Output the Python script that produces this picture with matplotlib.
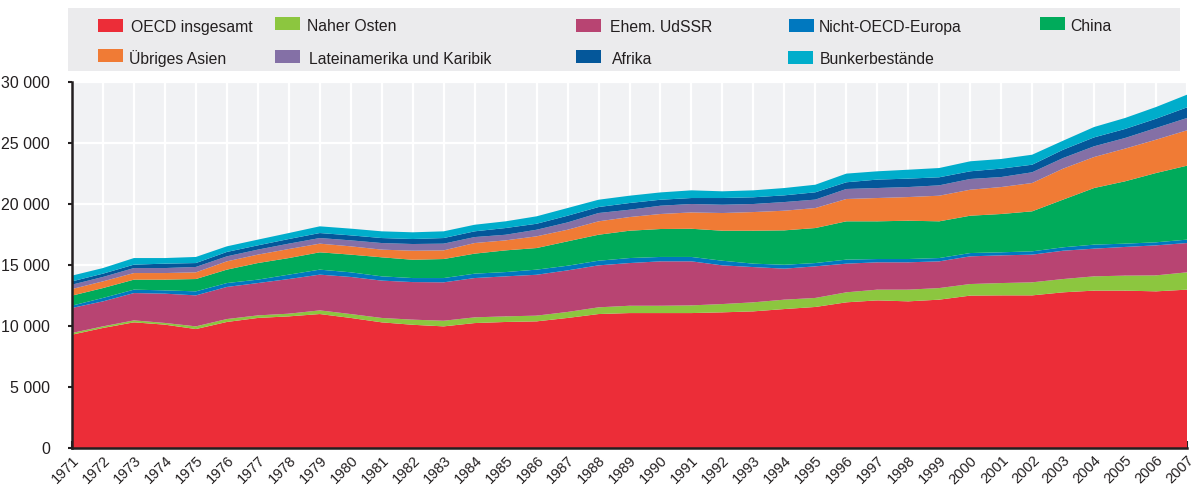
import matplotlib
matplotlib.use("Agg")
import matplotlib.pyplot as plt
from matplotlib.patches import Rectangle
from matplotlib.ticker import FuncFormatter, MultipleLocator

years = list(range(1971, 2008))

oecd = [9290, 9840, 10300, 10110, 9750, 10330, 10660, 10790, 10980, 10660, 10300, 10100, 9970,
        10240, 10330, 10380, 10660, 10980, 11060, 11060, 11060, 11120, 11200, 11390, 11560,
        11940, 12100, 12020, 12160, 12490, 12510, 12510, 12760, 12900, 12900, 12840, 12980]
naher_osten = [140, 130, 160, 140, 220, 240, 210, 220, 300, 320, 360, 420, 460, 470, 460, 470,
               490, 550, 600, 600, 630, 680, 740, 770, 740, 820, 880, 960, 950, 950, 1010, 1070,
               1090, 1170, 1230, 1310, 1420]
udssr = [2050, 2050, 2240, 2400, 2540, 2630, 2650, 2840, 2930, 3040, 3060, 3080, 3150, 3220,
         3280, 3350, 3410, 3440, 3500, 3640, 3610, 3170, 2890, 2540, 2590, 2350, 2240, 2240,
         2190, 2270, 2270, 2270, 2320, 2270, 2350, 2460, 2400]
nicht_oecd_europa = [190, 280, 280, 270, 330, 320, 280, 360, 410, 380, 350, 330, 350, 360, 350,
                     420, 380, 380, 410, 360, 360, 380, 280, 320, 270, 330, 270, 270, 270, 270,
                     250, 270, 280, 330, 270, 250, 280]
china = [820, 810, 820, 880, 1010, 1100, 1360, 1360, 1420, 1450, 1560, 1500, 1560, 1640, 1780,
         1770, 2000, 2130, 2240, 2290, 2310, 2460, 2700, 2820, 2870, 3140, 3090, 3140, 3010,
         3060, 3140, 3280, 3910, 4640, 5110, 5680, 6060]
uebriges_asien = [540, 550, 540, 540, 550, 680, 690, 740, 710, 680, 630, 740, 710, 870, 820, 960,
                  950, 1100, 1120, 1230, 1340, 1450, 1530, 1610, 1640, 1830, 1910, 1940, 2100,
                  2130, 2210, 2320, 2540, 2540, 2680, 2730, 2900]
lateinamerika = [360, 360, 410, 410, 440, 410, 410, 440, 460, 490, 540, 550, 550, 490, 460, 540,
                 600, 680, 600, 680, 690, 680, 660, 710, 690, 820, 820, 820, 850, 880, 820, 880,
                 870, 880, 870, 960, 1010]
afrika = [270, 270, 280, 360, 320, 360, 350, 380, 410, 410, 410, 410, 460, 470, 550, 490, 550,
          490, 550, 490, 490, 550, 550, 550, 600, 550, 690, 690, 660, 630, 690, 620, 680, 730,
          740, 760, 870]
bunker = [470, 460, 540, 460, 500, 460, 470, 490, 550, 550, 550, 550, 550, 540, 550, 610, 630,
          600, 600, 600, 630, 550, 570, 600, 620, 710, 680, 730, 760, 820, 790, 820, 740, 850,
          900, 960, 1040]

labels = ["OECD insgesamt", "Naher Osten", "Ehem. UdSSR", "Nicht-OECD-Europa", "China",
          "Übriges Asien", "Lateinamerika und Karibik", "Afrika", "Bunkerbestände"]
colors = ["#EC2D38", "#8CC63F", "#B84472", "#0078BF", "#00AB5B",
          "#F07B35", "#8470A6", "#04579A", "#00ADCB"]

plt.rcParams["font.family"] = ["Liberation Sans", "DejaVu Sans"]
TXT = "#231F20"

fig = plt.figure(figsize=(11.96, 4.87), dpi=100)
W, H = 1196, 487
ax = fig.add_axes([72 / W, 1 - 448 / H, (1187 - 72) / W, (448 - 82) / H])
ax.set_facecolor("#F1F2F4")

series = [oecd, naher_osten, udssr, nicht_oecd_europa, china, uebriges_asien,
          lateinamerika, afrika, bunker]
ax.stackplot(years, *series, colors=colors, linewidth=0, zorder=2)

ax.set_xlim(1971, 2007)
ax.set_ylim(0, 30000)
ax.set_xticks(years)
ax.set_xticklabels([str(y) for y in years], rotation=45, ha="right", rotation_mode="anchor",
                   fontsize=10.5, color=TXT)
ax.yaxis.set_major_locator(MultipleLocator(5000))
ax.yaxis.set_major_formatter(FuncFormatter(lambda v, p: f"{int(v):,}".replace(",", " ")))
ax.tick_params(axis="y", labelsize=11.5, colors=TXT, direction="out", length=3, width=1.5, pad=13)
ax.tick_params(axis="x", direction="in", length=5, width=1.5, colors=TXT, pad=4)
ax.grid(True, color="white", linewidth=1.6, zorder=1)
ax.set_axisbelow(True)
for s in ["top", "right"]:
    ax.spines[s].set_visible(False)
for s in ["left", "bottom"]:
    ax.spines[s].set_color(TXT)
    ax.spines[s].set_linewidth(1.8)
    ax.spines[s].set_zorder(5)

# Legend box
fig.patches.append(Rectangle((68 / W, 1 - 71 / H), (1180 - 68) / W, (71 - 8) / H,
                             transform=fig.transFigure, facecolor="#EBEBED", edgecolor="none",
                             zorder=0))
# patch left x, patch centre y, text left x, text centre y (pixels)
layout = [(98, 25.5, 131, 26), (275, 23.5, 307, 25), (576, 25.5, 610, 26), (789, 25.5, 819, 26),
          (1040, 23.5, 1070, 25),
          (98, 55.5, 129, 57), (275, 56.5, 309, 58.5), (576, 56.5, 612, 58), (788, 57.5, 820, 58.5)]
for (px, py, tx, ty), lab, col in zip(layout, labels, colors):
    fig.patches.append(Rectangle((px / W, 1 - (py + 6.5) / H), 25 / W, 13 / H,
                                 transform=fig.transFigure, facecolor=col, edgecolor="none",
                                 zorder=1))
    fig.text(tx / W, 1 - ty / H, lab, fontsize=11.3, color=TXT, va="center_baseline", ha="left")

fig.savefig("out.png", dpi=100)
